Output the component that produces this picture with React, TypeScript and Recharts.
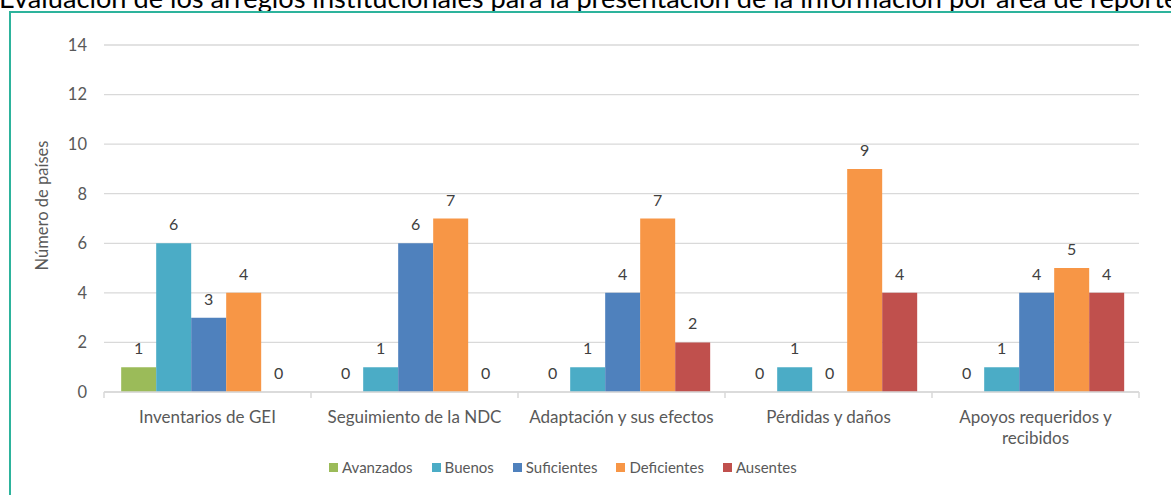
import { BarChart, Bar, XAxis, YAxis, CartesianGrid, Legend, LabelList } from "recharts";

const categories = [
  "Inventarios de GEI",
  "Seguimiento de la NDC",
  "Adaptación y sus efectos",
  "Pérdidas y daños",
  "Apoyos requeridos y recibidos",
];
// how each category label is broken into lines under the axis
const categoryLines = [
  ["Inventarios de GEI"],
  ["Seguimiento de la NDC"],
  ["Adaptación y sus efectos"],
  ["Pérdidas y daños"],
  ["Apoyos requeridos y", "recibidos"],
];

const avanzados = [1, 0, 0, 0, 0];
const buenos = [6, 1, 1, 1, 1];
const suficientes = [3, 6, 4, 0, 4];
const deficientes = [4, 7, 7, 9, 5];
const ausentes = [0, 0, 2, 4, 4];

const yTicks = [0, 2, 4, 6, 8, 10, 12, 14];

const series = [
  { key: "Avanzados", values: avanzados, color: "#9BBB59" },
  { key: "Buenos", values: buenos, color: "#4BACC6" },
  { key: "Suficientes", values: suficientes, color: "#4F81BD" },
  { key: "Deficientes", values: deficientes, color: "#F79646" },
  { key: "Ausentes", values: ausentes, color: "#C0504D" },
];

const data = categories.map((name, i) => {
  const row: Record<string, string | number> = { name };
  series.forEach((s) => (row[s.key] = s.values[i]));
  return row;
});

const FONT = "Lato, 'Open Sans', sans-serif";
const GREY = "#595959";

function CategoryTick(props: any) {
  const { x, y, payload, index } = props;
  const half = payload.offset ?? 103.5;
  const lines = categoryLines[index] ?? [payload.value];
  return (
    <g>
      <line x1={x - half} x2={x - half} y1={y} y2={y + 6} stroke="#d9d9d9" strokeWidth={1.5} />
      {index === categories.length - 1 && (
        <line x1={x + half} x2={x + half} y1={y} y2={y + 6} stroke="#d9d9d9" strokeWidth={1.5} />
      )}
      {lines.map((line: string, i: number) => (
        <text
          key={i}
          x={x}
          y={y + 31 + i * 21}
          textAnchor="middle"
          fill={GREY}
          fontSize={17}
          fontFamily={FONT}
        >
          {line}
        </text>
      ))}
    </g>
  );
}

function ValueLabel(props: any) {
  const { x, y, width, value } = props;
  return (
    <text x={x + width / 2} y={y - 13} textAnchor="middle" fill="#404040" fontSize={16} fontFamily={FONT}>
      {value}
    </text>
  );
}

function LegendContent() {
  return (
    <div style={{ display: "flex", gap: 19, paddingLeft: 329, fontFamily: FONT, fontSize: 15, color: GREY }}>
      {series.map((s) => (
        <div key={s.key} style={{ display: "flex", alignItems: "center", gap: 4 }}>
          <span style={{ width: 9, height: 9, background: s.color, display: "inline-block" }} />
          <span>{s.key}</span>
        </div>
      ))}
    </div>
  );
}

export default function App() {
  return (
    <div
      style={{
        position: "absolute",
        left: 0,
        top: 0,
        width: 1171,
        height: 495,
        overflow: "hidden",
        background: "#fff",
      }}
    >
      <div
        style={{
          position: "absolute",
          left: -1,
          top: -16,
          whiteSpace: "nowrap",
          fontFamily: FONT,
          fontSize: 27.2,
          lineHeight: "27px",
          color: "#000",
        }}
      >
        Evaluación de los arreglos institucionales para la presentación de la información por área de reporte
      </div>
      <div
        style={{
          position: "absolute",
          left: 9,
          top: 11,
          width: 1200,
          height: 500,
          borderLeft: "2px solid #2DB39C",
          borderTop: "2px solid #2DB39C",
        }}
      />
      <div style={{ position: "absolute", left: 0, top: 0 }}>
        <BarChart
          width={1171}
          height={495}
          data={data}
          margin={{ top: 45, right: 32, left: 44, bottom: 17 }}
          barCategoryGap="8.3%"
          barGap={0}
        >
          <CartesianGrid vertical={false} stroke="#d9d9d9" strokeWidth={1.3} />
          <XAxis
            dataKey="name"
            height={66}
            tickLine={false}
            tickSize={0}
            tickMargin={0}
            interval={0}
            axisLine={{ stroke: "#d9d9d9", strokeWidth: 1.5 }}
            tick={<CategoryTick />}
          />
          <YAxis
            width={60}
            domain={[0, 14]}
            ticks={yTicks}
            axisLine={false}
            tickLine={false}
            tickMargin={11}
            tick={{ fill: GREY, fontSize: 16.5, fontFamily: FONT }}
            label={{
              value: "Número de países",
              angle: -90,
              position: "insideLeft",
              dx: -7,
              dy: -13,
              style: { textAnchor: "middle", fill: GREY, fontSize: 16.5, fontFamily: FONT },
            }}
          />
          <Legend
            verticalAlign="bottom"
            wrapperStyle={{ height: 20, left: 0, width: 1171 }}
            content={<LegendContent />}
          />
          {series.map((s) => (
            <Bar key={s.key} dataKey={s.key} fill={s.color} minPointSize={0.01} isAnimationActive={false}>
              <LabelList dataKey={s.key} content={<ValueLabel />} />
            </Bar>
          ))}
        </BarChart>
      </div>
    </div>
  );
}
